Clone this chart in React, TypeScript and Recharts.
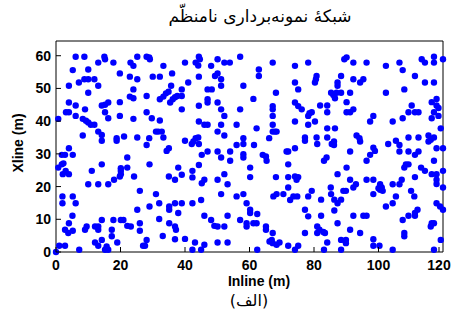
import { ScatterChart, Scatter, XAxis, YAxis } from "recharts";

// sample positions, [inline, xline] in metres
const upperLeft = [
  [6.1, 59.7], [8.8, 59.7], [15.0, 59.7], [15.2, 58.9], [25.2, 59.7], [28.1, 59.7], [28.9, 59.5], [29.1, 58.9],
  [5.2, 55.6], [10.0, 55.8], [13.1, 57.9], [17.8, 57.9], [23.1, 57.9], [24.0, 56.9], [33.3, 56.9], [19.8, 54.6],
  [36.0, 54.6], [8.8, 52.8], [10.0, 52.8], [11.9, 52.8], [7.1, 51.8], [22.9, 53.6], [25.2, 52.8], [30.0, 53.6],
  [32.2, 53.6], [4.0, 50.8], [13.1, 50.8], [24.0, 49.7], [35.7, 50.8], [10.0, 48.7], [22.9, 47.5], [24.0, 47.0],
  [28.1, 47.7], [32.2, 46.7], [33.3, 47.5], [34.1, 48.5], [34.9, 49.0], [35.4, 45.7], [36.2, 46.7], [36.9, 47.3],
  [37.6, 47.7], [4.0, 45.7], [6.1, 44.8], [14.2, 44.8], [15.2, 45.0], [16.2, 45.7], [19.8, 45.8], [9.0, 43.6],
  [3.1, 42.7], [4.0, 42.7], [15.2, 42.7], [28.1, 42.7], [6.1, 41.6], [19.8, 41.6], [0.7, 40.7], [8.3, 40.7],
  [9.3, 40.1], [10.0, 39.6], [10.8, 38.9], [11.9, 38.9], [16.2, 40.9], [24.0, 40.7], [29.7, 40.9], [32.2, 40.2],
  [31.0, 36.8], [31.7, 36.8], [32.8, 36.8], [13.1, 36.8], [14.2, 35.8], [8.3, 35.6], [18.8, 34.8], [18.8, 34.0],
  [21.1, 35.3], [25.2, 35.0], [28.9, 34.8], [33.3, 35.0], [14.2, 34.0], [28.1, 32.7],
];

const upperMid = [
  [44.3, 59.7], [44.6, 58.9], [50.1, 58.9], [57.1, 59.7], [40.0, 57.9], [43.3, 57.9], [44.1, 57.0], [48.1, 56.9],
  [52.2, 57.9], [53.9, 57.9], [67.2, 57.9], [74.1, 56.9], [78.2, 57.9], [62.9, 55.8], [62.9, 53.8], [44.3, 53.6],
  [49.3, 53.8], [50.1, 54.6], [51.2, 52.8], [41.0, 51.8], [51.2, 50.8], [58.1, 50.8], [74.1, 51.8], [39.0, 49.7],
  [47.0, 49.7], [48.3, 49.7], [68.2, 48.7], [75.1, 49.7], [39.0, 47.7], [61.2, 46.8], [47.0, 46.7], [47.0, 45.7],
  [50.1, 45.7], [74.1, 45.7], [75.1, 44.6], [76.2, 43.6], [39.0, 43.6], [44.3, 44.7], [51.2, 43.6], [57.1, 43.6],
  [67.2, 44.6], [67.2, 43.6], [67.2, 41.6], [52.2, 41.6], [78.6, 42.4], [78.2, 41.6], [44.3, 39.9], [46.0, 38.9],
  [47.0, 38.9], [51.2, 38.9], [56.0, 38.9], [67.2, 38.9], [74.1, 39.9], [78.2, 38.9], [62.2, 37.8], [50.1, 36.8],
  [67.2, 36.8], [67.9, 36.8], [68.4, 36.8], [52.2, 35.6], [66.1, 34.8], [58.1, 34.8], [77.2, 35.0], [77.2, 34.0],
  [40.0, 34.0], [43.3, 34.8], [44.1, 35.0], [42.6, 33.8], [42.1, 33.0], [56.0, 32.7], [58.1, 33.0], [61.4, 32.7],
  [44.3, 33.0],
];

const upperRight = [
  [89.4, 58.9], [90.1, 59.5], [92.2, 57.9], [96.3, 57.9], [102.3, 56.9], [106.5, 57.9], [107.5, 55.6], [113.4, 58.9],
  [114.4, 57.9], [117.2, 59.7], [117.2, 57.9], [120.0, 58.9], [88.4, 53.8], [80.8, 53.8], [80.6, 52.8], [80.3, 51.8],
  [92.2, 52.8], [94.3, 51.8], [95.3, 52.8], [111.3, 53.8], [114.4, 51.8], [117.2, 51.8], [87.3, 51.8], [87.3, 50.8],
  [108.0, 49.7], [102.3, 48.7], [85.3, 48.7], [86.0, 48.0], [86.5, 47.0], [87.0, 48.7], [88.4, 48.7], [91.2, 48.7],
  [90.1, 45.8], [116.5, 45.8], [118.0, 46.8], [118.0, 44.8], [118.6, 44.0], [81.9, 44.8], [84.1, 44.8], [110.3, 44.8],
  [79.3, 42.7], [84.1, 42.7], [90.1, 42.7], [91.2, 42.7], [92.2, 43.6], [109.3, 42.7], [111.3, 42.7], [112.4, 42.7],
  [117.2, 42.7], [118.6, 41.6], [98.4, 41.6], [97.4, 39.9], [80.3, 39.9], [104.4, 39.9], [107.5, 40.9], [116.5, 40.9],
  [119.3, 37.8], [84.1, 37.8], [86.5, 37.8], [80.8, 35.0], [84.1, 35.0], [93.2, 35.6], [94.1, 34.8], [94.3, 33.8],
  [109.3, 35.0], [112.4, 35.0], [115.5, 35.6], [116.2, 34.3], [117.2, 35.0], [115.5, 33.8], [81.0, 33.0], [85.5, 33.0],
  [86.2, 33.8], [86.2, 32.7], [103.0, 33.0], [105.4, 34.0], [106.5, 32.7],
];

const lowerLeft = [
  [4.0, 31.7], [5.2, 29.7], [1.8, 29.7], [2.8, 29.7], [0.7, 25.8], [1.8, 26.8], [2.3, 27.1], [3.0, 24.8],
  [2.1, 23.8], [4.0, 23.8], [14.2, 26.8], [11.1, 24.8], [20.1, 25.6], [20.1, 24.8], [20.1, 23.8], [19.8, 23.1],
  [22.1, 28.9], [22.1, 25.8], [24.2, 23.1], [18.0, 22.1], [16.2, 20.7], [13.1, 20.7], [10.0, 20.7], [29.0, 26.8],
  [34.3, 30.9], [35.0, 31.7], [37.9, 25.8], [35.0, 23.1], [36.9, 22.1], [26.0, 18.7], [31.0, 17.7], [2.0, 17.0],
  [5.2, 17.0], [2.0, 14.9], [6.1, 14.9], [29.0, 13.9], [32.0, 14.9], [35.1, 13.9], [35.1, 12.9], [36.9, 14.9],
  [25.2, 12.9], [37.9, 11.9], [5.1, 11.1], [32.0, 10.1], [14.2, 9.8], [17.8, 9.8], [20.1, 9.8], [20.9, 9.8],
  [4.0, 8.8], [22.1, 8.0], [23.2, 7.8], [26.0, 8.8], [35.1, 8.8], [36.9, 7.8], [37.2, 6.8], [9.5, 7.8],
  [12.1, 7.8], [13.1, 7.8], [13.1, 6.8], [2.8, 6.8], [3.8, 5.8], [5.2, 6.5], [9.0, 6.8], [17.3, 6.8],
  [26.0, 6.5], [12.1, 2.9], [13.1, 1.9], [14.2, 3.7], [15.7, 1.7], [15.2, 0.7], [16.2, 0.7], [17.3, 4.8],
  [19.0, 2.9], [28.1, 3.7], [27.6, 1.9], [27.0, 1.9], [33.1, 4.9], [36.9, 3.9], [1.0, 1.9], [2.8, 1.9],
  [7.2, 0.7], [0, 0],
];

const lowerMid = [
  [47.0, 30.7], [50.1, 30.7], [51.2, 28.9], [54.0, 30.7], [54.0, 27.9], [58.1, 29.9], [58.1, 28.9], [45.2, 29.7],
  [44.3, 26.6], [64.1, 29.7], [65.1, 29.2], [65.3, 27.9], [71.5, 30.7], [72.0, 30.7], [74.1, 31.7], [72.0, 26.8],
  [39.0, 23.6], [42.3, 24.8], [42.3, 22.8], [60.2, 25.8], [60.2, 22.9], [52.2, 23.8], [50.1, 22.1], [46.0, 22.1],
  [45.2, 21.0], [53.2, 20.7], [68.2, 22.9], [72.0, 22.9], [74.1, 23.1], [74.6, 22.1], [75.1, 22.9], [72.0, 19.7],
  [51.2, 17.7], [56.0, 17.0], [58.1, 17.7], [67.4, 17.0], [68.4, 17.7], [70.5, 17.7], [72.6, 15.9], [73.6, 17.0],
  [74.8, 17.0], [78.2, 17.0], [39.0, 14.9], [42.3, 14.9], [45.0, 15.9], [59.1, 14.9], [60.2, 12.9], [60.2, 11.9],
  [62.4, 11.6], [77.2, 12.9], [78.2, 10.9], [46.0, 11.1], [48.1, 9.8], [53.2, 11.1], [57.1, 9.8], [49.1, 8.0],
  [50.1, 7.8], [52.2, 7.8], [59.1, 8.8], [59.1, 7.8], [61.2, 8.8], [62.2, 8.8], [65.1, 7.8], [65.1, 6.8],
  [67.2, 5.8], [77.2, 5.8], [40.0, 4.0], [43.1, 2.9], [46.0, 2.2], [50.1, 2.9], [53.2, 2.9], [66.2, 3.2],
  [66.9, 3.7], [67.2, 2.7], [68.4, 2.2], [69.3, 2.9], [72.0, 1.9], [75.1, 1.9], [42.3, 0.7], [45.0, 0.7],
  [62.4, 0.7], [74.1, 0.7],
];

const lowerRight = [
  [98.4, 31.9], [98.9, 30.9], [91.2, 30.7], [106.5, 30.7], [109.3, 30.7], [111.3, 29.7], [112.4, 30.7], [118.0, 31.7],
  [120.0, 31.7], [83.1, 27.9], [83.9, 28.9], [97.4, 29.7], [96.3, 27.9], [90.1, 25.8], [108.5, 26.8], [109.3, 26.8],
  [108.0, 25.8], [113.2, 25.8], [114.4, 24.8], [117.2, 27.9], [120.0, 24.8], [116.5, 23.8], [118.0, 23.8], [87.3, 23.8],
  [111.3, 22.9], [91.2, 22.1], [96.3, 22.1], [98.4, 22.1], [100.5, 20.7], [101.0, 19.7], [100.5, 19.0], [101.3, 18.7],
  [100.0, 19.5], [104.4, 20.7], [107.2, 22.1], [106.5, 20.7], [118.0, 22.1], [118.0, 20.8], [93.0, 20.7], [92.2, 19.7],
  [85.2, 19.7], [89.9, 18.7], [89.1, 18.7], [120.0, 19.7], [79.3, 18.7], [85.3, 17.7], [110.1, 18.7], [111.1, 17.0],
  [105.4, 17.0], [98.4, 17.7], [82.2, 16.0], [86.3, 16.0], [87.3, 14.9], [88.4, 16.0], [104.4, 14.9], [102.3, 13.9],
  [118.0, 14.9], [119.1, 13.9], [120.0, 12.9], [112.1, 12.9], [111.3, 11.9], [111.3, 11.1], [86.3, 12.7], [82.2, 11.1],
  [92.2, 11.1], [95.3, 11.1], [96.3, 11.1], [109.3, 11.1], [107.5, 9.8], [87.3, 8.8], [116.5, 8.8], [117.2, 8.8],
  [116.2, 7.8], [81.0, 7.8], [81.7, 6.8], [81.0, 5.8], [82.9, 6.1], [83.4, 5.8], [91.2, 6.8], [94.3, 5.8],
  [108.0, 5.8], [108.0, 4.8], [84.1, 2.9], [88.4, 3.7], [89.9, 3.7], [89.9, 2.7], [98.4, 3.9], [98.4, 1.9],
  [100.3, 1.9], [83.1, 0.7], [88.4, 0.7], [104.4, 0.7], [117.2, 0.7], [119.3, 3.7],
];

const inlineTicks = [0, 20, 40, 60, 80, 100, 120];
const xlineTicks = [0, 10, 20, 30, 40, 50, 60];

const points = [...upperLeft, ...upperMid, ...upperRight, ...lowerLeft, ...lowerMid, ...lowerRight].map(
  ([x, y]) => ({ x, y })
);

const tickFont = "'Liberation Sans', Arial, sans-serif";

function BottomTick({ x, y, payload }: any) {
  return (
    <g>
      <line x1={x} y1={y} x2={x} y2={y - 5} stroke="#000" />
      <text x={x} y={y + 18} textAnchor="middle" fontSize={14} fontWeight="bold" fontFamily={tickFont} fill="#000">
        {payload.value}
      </text>
    </g>
  );
}

function LeftTick({ x, y, payload }: any) {
  return (
    <g>
      <line x1={x} y1={y} x2={x + 5} y2={y} stroke="#000" />
      <text x={x - 5} y={y + 5} textAnchor="end" fontSize={14} fontWeight="bold" fontFamily={tickFont} fill="#000">
        {payload.value}
      </text>
    </g>
  );
}

function TopTick({ x, y }: any) {
  return <line x1={x} y1={y} x2={x} y2={y + 5} stroke="#000" />;
}

function RightTick({ x, y }: any) {
  return <line x1={x} y1={y} x2={x - 5} y2={y} stroke="#000" />;
}

function Dot({ cx, cy }: any) {
  return <circle cx={cx} cy={cy} r={3.2} fill="#0000ff" />;
}

export default function App() {
  return (
    <div style={{ position: "absolute", left: 0, top: 0, width: 451, height: 312, background: "#fff" }}>
      <ScatterChart width={451} height={312} margin={{ top: 40, right: 7, bottom: 59, left: 55 }}>
        <XAxis
          type="number"
          dataKey="x"
          domain={[0, 120]}
          ticks={inlineTicks}
          height={1}
          tickSize={0}
          tickMargin={0}
          tickLine={false}
          tick={<BottomTick />}
          axisLine={{ stroke: "#000" }}
        />
        <XAxis
          xAxisId="top"
          orientation="top"
          type="number"
          domain={[0, 120]}
          ticks={inlineTicks}
          height={1}
          tickSize={0}
          tickMargin={0}
          tickLine={false}
          tick={<TopTick />}
          axisLine={{ stroke: "#000" }}
        />
        <YAxis
          type="number"
          dataKey="y"
          domain={[0, 64.5]}
          ticks={xlineTicks}
          width={1}
          tickSize={0}
          tickMargin={0}
          tickLine={false}
          tick={<LeftTick />}
          axisLine={{ stroke: "#000" }}
        />
        <YAxis
          yAxisId="right"
          orientation="right"
          type="number"
          domain={[0, 64.5]}
          ticks={xlineTicks}
          width={1}
          tickSize={0}
          tickMargin={0}
          tickLine={false}
          tick={<RightTick />}
          axisLine={{ stroke: "#000" }}
        />
        <Scatter data={points} shape={<Dot />} isAnimationActive={false} />
      </ScatterChart>
      <div
        style={{
          position: "absolute",
          left: 140,
          width: 240,
          top: 6,
          textAlign: "center",
          fontFamily: "'DejaVu Sans', serif",
          fontSize: 17,
          direction: "rtl",
          whiteSpace: "nowrap",
        }}
      >
        شبکهٔ نمونه‌برداری نامنظّم
      </div>
      <div
        style={{
          position: "absolute",
          left: 200,
          width: 118,
          top: 274,
          lineHeight: "14px",
          textAlign: "center",
          fontFamily: tickFont,
          fontWeight: "bold",
          fontSize: 14,
        }}
      >
        Inline (m)
      </div>
      <div
        style={{
          position: "absolute",
          left: 199,
          width: 100,
          top: 292,
          lineHeight: "18px",
          textAlign: "center",
          fontFamily: "'DejaVu Sans', serif",
          fontSize: 16,
          direction: "rtl",
        }}
      >
        (الف)
      </div>
      <div
        style={{
          position: "absolute",
          left: 18,
          top: 143,
          transform: "translate(-50%, -50%) rotate(-90deg)",
          fontFamily: tickFont,
          fontWeight: "bold",
          fontSize: 14,
          whiteSpace: "nowrap",
        }}
      >
        Xline (m)
      </div>
    </div>
  );
}
